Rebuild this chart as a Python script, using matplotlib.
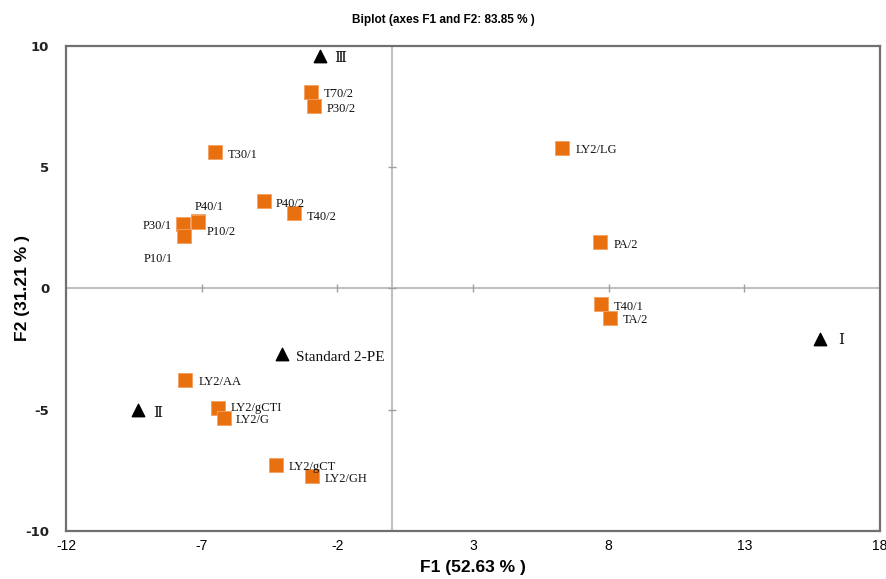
import matplotlib
matplotlib.use("Agg")
import matplotlib.pyplot as plt
import numpy as np

plt.rcParams["axes.unicode_minus"] = False

# Data
obs_names = ["T70/2", "P30/2", "T30/1", "LY2/LG", "P40/2", "T40/2", "P40/1", "P10/2",
             "P30/1", "P10/1", "PA/2", "T40/1", "TA/2", "LY2/AA", "LY2/gCTI", "LY2/G",
             "LY2/gCT", "LY2/GH"]
obs_f1 = [-2.97, -2.86, -6.51, 6.28, -4.70, -3.60, -7.15, -7.13,
          -7.70, -7.66, 7.67, 7.73, 8.06, -7.63, -6.41, -6.19,
          -4.26, -2.92]
obs_f2 = [8.12, 7.51, 5.61, 5.81, 3.59, 3.13, 2.78, 2.74,
          2.64, 2.16, 1.90, -0.65, -1.20, -3.77, -4.92, -5.33,
          -7.26, -7.74]

grp_names = ["Ⅲ", "Ⅰ", "Ⅱ", "Standard 2-PE"]
grp_f1 = [-2.64, 15.78, -9.36, -4.05]
grp_f2 = [9.57, -2.07, -5.00, -2.72]

x_ticks = [-12, -7, -2, 3, 8, 13, 18]
y_ticks = [-10, -5, 0, 5, 10]

# label offsets (points)
obs_offsets = {
    "T70/2": (9, -4), "P30/2": (9, -4), "T30/1": (9, -4), "LY2/LG": (10, -4),
    "P40/2": (8, -4), "T40/2": (9, -5), "P40/1": (-2, 8), "P10/2": (6, -9),
    "P30/1": (-29, -3), "P10/1": (-29, -19), "PA/2": (10, -4), "T40/1": (9, -4),
    "TA/2": (9, -4), "LY2/AA": (10, -4), "LY2/gCTI": (9, -2), "LY2/G": (9, -4),
    "LY2/gCT": (9, -4), "LY2/GH": (9, -4),
}
grp_offsets = {"Ⅲ": (10, -4), "Ⅰ": (13, -4), "Ⅱ": (11, -5), "Standard 2-PE": (10, -5)}
grp_sizes = {"Ⅲ": 11, "Ⅰ": 11, "Ⅱ": 11, "Standard 2-PE": 11}

fig = plt.figure(figsize=(8.86, 5.79), dpi=100)
ax = fig.add_axes([0.0745, 0.0829, 0.9187, 0.8377])

ax.set_xlim(x_ticks[0], x_ticks[-1])
ax.set_ylim(y_ticks[0], y_ticks[-1])

# zero lines
ax.axhline(0, color="#c0c0c0", lw=1.5, zorder=1)
ax.axvline(0, color="#c0c0c0", lw=1.5, zorder=1)
# small cross ticks on zero lines
ax.scatter(x_ticks[1:-1], [0] * len(x_ticks[1:-1]), marker="|", s=40, color="#a0a0a0", lw=1, zorder=1)
ax.scatter([0] * len(y_ticks[1:-1]), y_ticks[1:-1], marker="_", s=40, color="#a0a0a0", lw=1, zorder=1)

ax.scatter(obs_f1, obs_f2, marker="s", s=95, color="#E8700F", edgecolors="#F5A060", linewidths=0.6, zorder=3)
ax.scatter(grp_f1, grp_f2, marker="^", s=80, color="black", zorder=3)

serif = ["Liberation Serif", "DejaVu Serif"]
for n, x, y in zip(obs_names, obs_f1, obs_f2):
    ax.annotate(n, (x, y), xytext=obs_offsets[n], textcoords="offset points",
                fontsize=9, family=serif, color="#111111", zorder=4)
for n, x, y in zip(grp_names, grp_f1, grp_f2):
    ax.annotate(n, (x, y), xytext=grp_offsets[n], textcoords="offset points",
                fontsize=grp_sizes[n], family=serif, color="#111111", zorder=4)

ax.set_xticks(x_ticks)
ax.set_yticks(y_ticks)
ax.tick_params(axis="x", length=0, pad=6)
ax.tick_params(axis="y", length=0, pad=12)
for lab in ax.get_xticklabels():
    lab.set_family("Liberation Sans")
    lab.set_fontsize(10)
for lab in ax.get_yticklabels():
    lab.set_family("DejaVu Sans")
    lab.set_fontsize(9.5)
    lab.set_fontweight("bold")
    lab.set_color("#222222")

for s in ax.spines.values():
    s.set_color("#707070")
    s.set_linewidth(1.6)

ax.set_xlabel("F1 (52.63 % )", fontsize=12.5, fontweight="bold", family="Liberation Sans", labelpad=5)
ax.set_ylabel("F2 (31.21 % )", fontsize=12.5, fontweight="bold", family="Liberation Sans")
ax.yaxis.set_label_coords(-0.044, 0.5)
fig.suptitle("Biplot (axes F1 and F2: 83.85 % )", y=0.975, fontsize=8.5, fontweight="bold", family="Liberation Sans")

fig.savefig("out.png", dpi=100)
